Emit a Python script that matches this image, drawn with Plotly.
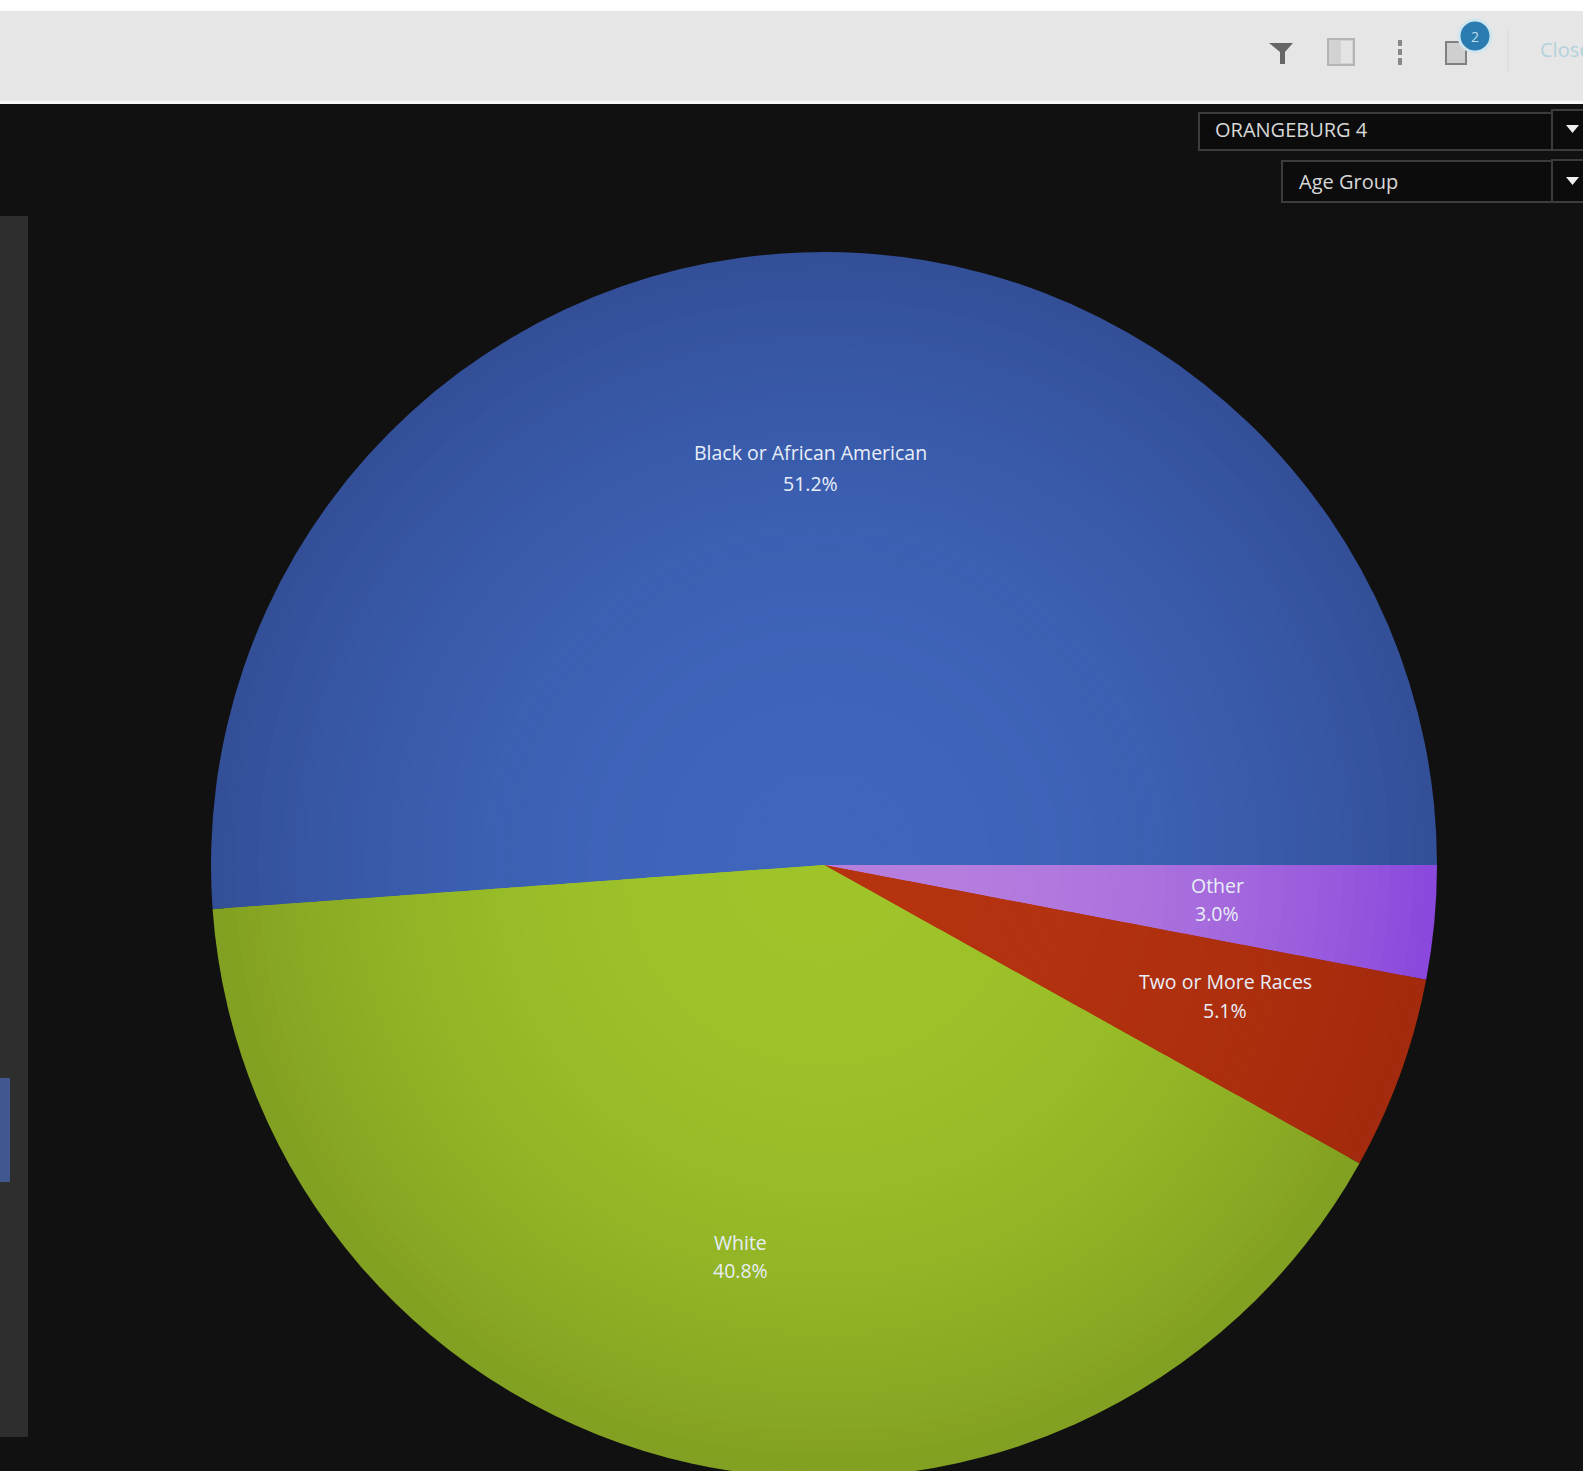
import plotly.graph_objects as go

# ---- data ----
categories = ["Black or African American", "Other", "Two or More Races", "White"]
values = [51.2, 3.0, 5.1, 40.8]
colors_center = ["#3F66BC", "#B67FDE", "#B5330F", "#9FC42A"]
colors_edge = ["#334F98", "#8A48DC", "#A32A0C", "#82A021"]
label_pos = {  # pixel centres of (name line, value line)
    "Black or African American": (810, 453, 483),
    "Other": (1217, 885, 914),
    "Two or More Races": (1225, 981, 1010),
    "White": (740, 1242, 1270),
}

W, H = 1583, 1490   # the pie runs off the bottom of the 1471 px window
CX, CY, R = 824, 865, 613
LEVELS = 48
BG = "#111111"


def px(x):
    return x / W


def py(y):
    return 1 - y / H


def mix(a, b, t):
    ca = [int(a[i:i + 2], 16) for i in (1, 3, 5)]
    cb = [int(b[i:i + 2], 16) for i in (1, 3, 5)]
    return "rgb(%d,%d,%d)" % tuple(round(u + (v - u) * t) for u, v in zip(ca, cb))


fig = go.Figure()

# concentric copies of the pie give the soft radial shading
for k in range(LEVELS):
    rho = 1 - 0.9 * k / (LEVELS - 1)   # radius fraction: 1 = rim
    r = R * rho
    shade = 1 - rho ** 2.2
    fig.add_trace(go.Pie(
        labels=categories,
        values=values,
        sort=False,
        direction="clockwise",
        rotation=265.87,
        textinfo="none",
        hoverinfo="label+percent",
        showlegend=False,
        marker=dict(colors=[mix(e, c, shade) for e, c in zip(colors_edge, colors_center)],
                    line=dict(width=0)),
        domain=dict(x=[px(CX - r), px(CX + r)], y=[py(CY + r), py(CY - r)]),
    ))

shapes = []


def rect(x0, y0, x1, y1, fill=None, line=None, width=1):
    shapes.append(dict(type="rect", xref="paper", yref="paper", layer="below",
                       x0=px(x0), x1=px(x1), y0=py(y1), y1=py(y0),
                       fillcolor=fill or "rgba(0,0,0,0)",
                       line=dict(color=line or "rgba(0,0,0,0)", width=width if line else 0)))


def poly(points, fill):
    d = "M" + " L".join(f"{px(x):.5f},{py(y):.5f}" for x, y in points) + " Z"
    shapes.append(dict(type="path", xref="paper", yref="paper", layer="above", path=d,
                       fillcolor=fill, line=dict(width=0)))


# top bar
rect(0, 0, W, 11, "#FFFFFF")
rect(0, 11, W, 101, "#E6E6E6")
rect(0, 101, W, 104, "#F7F7F7")

# left panel
rect(0, 216, 28, 1437, "#2E2E2E")
rect(0, 1078, 10, 1182, "#41578F")

# toolbar icons
poly([(1269, 43), (1293, 43), (1285, 52), (1285, 64), (1280, 64), (1280, 52)], "#666666")
rect(1328, 39, 1354, 65, "#D2D2D2", "#B4B4B4", 2)
rect(1341, 41, 1352, 63, "#E4E4E4")
rect(1398, 40, 1402, 46, "#888888")
rect(1398, 49, 1402, 55, "#888888")
rect(1398, 58, 1402, 65, "#888888")
rect(1446, 42, 1466, 64, "#CFCFCF", "#808080", 2)
rect(1507, 30, 1509, 72, "#E0E0E0")
shapes.append(dict(type="circle", xref="paper", yref="paper", layer="above",
                   x0=px(1459), x1=px(1491), y0=py(52), y1=py(20),
                   fillcolor="#2A7BAF", line=dict(color="#CFE6F0", width=3)))

# selector boxes
rect(1199, 113, 1552, 150, "#0C0C0C", "#3C3C3C", 2)
rect(1282, 161, 1552, 202, "#0C0C0C", "#3C3C3C", 2)
rect(1552, 110, W + 5, 150, "#0C0C0C", "#3C3C3C", 2)
rect(1552, 160, W + 5, 202, "#0C0C0C", "#3C3C3C", 2)
poly([(1566, 125), (1579, 125), (1572.5, 133)], "#F0F0F0")
poly([(1566, 177), (1579, 177), (1572.5, 185)], "#F0F0F0")

FONT = "Open Sans"
annotations = []


def text(x, y, s, size=19.5, color="#FFFFFF", anchor="center"):
    annotations.append(dict(x=px(x), y=py(y), xref="paper", yref="paper", text=s,
                            showarrow=False, xanchor=anchor, yanchor="middle",
                            font=dict(family=FONT, size=size, color=color)))


for name, value in zip(categories, values):
    x, y1, y2 = label_pos[name]
    soft = "#E8EEF8"
    text(x, y1, name, color=soft)
    text(x, y2, f"{value:.1f}%", color=soft)

text(1213, 129, "ORANGEBURG 4", size=20, color="#D8D8D8", anchor="left")
text(1297, 181, "Age Group", size=20, color="#D8D8D8", anchor="left")
text(1538, 50, "Close", size=20, color="#B4D2DC", anchor="left")
text(1475, 36, "2", size=14, color="#BFDDEE")

fig.update_layout(
    width=W, height=H,
    margin=dict(l=0, r=0, t=0, b=0),
    paper_bgcolor=BG, plot_bgcolor=BG,
    font=dict(family=FONT, color="#FFFFFF"),
    shapes=shapes, annotations=annotations,
    showlegend=False,
)

fig.write_html(
    "out.html",
    config=dict(displayModeBar=False),
    post_script="document.body.style.margin='0';document.documentElement.style.overflow='hidden';document.body.style.background='#111111';",
)
